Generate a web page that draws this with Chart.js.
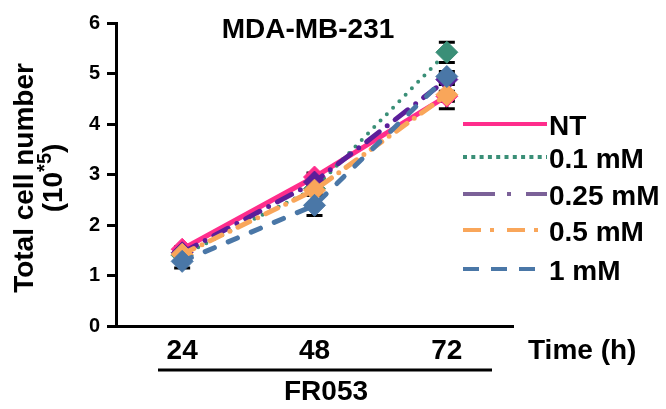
<!DOCTYPE html>
<html lang="en">
<head>
<meta charset="UTF-8">
<title>MDA-MB-231 | Total cell number</title>
<script src="https://cdn.jsdelivr.net/npm/chart.js"></script>
<style>
    html, body { margin: 0; padding: 0; background: #fff; }
    #grafico { display: block; }
</style>
</head>
<body>

<canvas id="grafico" width="666" height="409"></canvas>

<script>
// time points (h)
const rotulosX = ['24', '48', '72'];

// series names (legend order)
const nomes = ['NT', '0.1 mM', '0.25 mM', '0.5 mM', '1 mM'];

// total cell number (10^5)
const valoresNT = [1.52, 2.95, 4.55];
const valores01 = [1.40, 2.72, 5.42];
const valores025 = [1.45, 2.85, 4.88];
const valores05 = [1.42, 2.69, 4.58];
const valores1 = [1.28, 2.39, 4.94];

// error bars (same unit)
const errosNT = [0.05, 0.08, 0.10];
const erros01 = [0.05, 0.10, 0.20];
const erros025 = [0.05, 0.05, 0.10];
const erros05 = [0.05, 0.10, 0.28];
const erros1 = [0.13, 0.20, 0.10];

const fonte = '"Liberation Sans", Arial, Helvetica, sans-serif';

function serie(nome, valores, erros, cor, corLegenda, traco, tracoLegenda, largura, ordem) {
    return {
        label: nome,
        data: valores,
        erros: erros,
        borderColor: cor,
        backgroundColor: cor,
        borderWidth: largura,
        borderDash: traco,
        borderCapStyle: 'round',
        pointStyle: 'rectRot',
        pointRadius: 11,
        pointBackgroundColor: cor,
        pointBorderColor: cor,
        pointBorderWidth: 1,
        corLegenda: corLegenda,
        tracoLegenda: tracoLegenda,
        order: ordem,
        tension: 0
    };
}

const datasets = [
    serie(nomes[0], valoresNT, errosNT, '#ff2d8c', '#ff2d8c', [], [], 5, 5),
    serie(nomes[1], valores01, erros01, '#3a8f77', '#3a8f77', [0, 9], [4, 4.3], 4, 4),
    serie(nomes[2], valores025, erros025, '#5b1e9a', '#7b6198', [16, 10, 0, 10], [32, 12, 4, 15], 5, 3),
    serie(nomes[3], valores05, erros05, '#f9a65a', '#f9a65a', [13, 9, 0, 9], [18, 9, 4, 13], 5, 2),
    serie(nomes[4], valores1, erros1, '#4a77a7', '#4a77a7', [10, 15], [16, 12], 5, 1)
];

// error bars under the markers, titles and legend on top
const decoracao = {
    id: 'decoracao',
    beforeDatasetsDraw(chart) {
        const ctx = chart.ctx;
        const sx = chart.scales.x;
        const sy = chart.scales.y;
        ctx.save();
        ctx.strokeStyle = '#000';
        ctx.lineWidth = 3;
        chart.data.datasets.forEach(ds => {
            ds.data.forEach((v, i) => {
                const x = sx.getPixelForValue(i);
                const y1 = sy.getPixelForValue(v + ds.erros[i]);
                const y2 = sy.getPixelForValue(v - ds.erros[i]);
                ctx.beginPath();
                ctx.moveTo(x, y1); ctx.lineTo(x, y2);
                ctx.moveTo(x - 8, y1); ctx.lineTo(x + 8, y1);
                ctx.moveTo(x - 8, y2); ctx.lineTo(x + 8, y2);
                ctx.stroke();
            });
        });
        ctx.restore();
    },
    afterDraw(chart) {
        const ctx = chart.ctx;
        ctx.save();
        ctx.fillStyle = '#000';
        ctx.textBaseline = 'alphabetic';

        // title
        ctx.font = 'bold 28px ' + fonte;
        ctx.textAlign = 'center';
        ctx.fillText('MDA-MB-231', 308, 38);

        // axis names
        ctx.textAlign = 'left';
        ctx.fillText('Time (h)', 528, 359);
        ctx.textAlign = 'center';
        ctx.fillText('FR053', 326, 400);

        ctx.strokeStyle = '#000';
        ctx.lineWidth = 3;
        ctx.beginPath();
        ctx.moveTo(158, 370); ctx.lineTo(492, 370);
        ctx.stroke();

        // y title, two lines, rotated
        ctx.save();
        ctx.translate(23, 178);
        ctx.rotate(-Math.PI / 2);
        ctx.textAlign = 'center';
        ctx.fillText('Total cell number', 0, 10);
        ctx.restore();

        ctx.save();
        ctx.translate(55, 178);
        ctx.rotate(-Math.PI / 2);
        ctx.textAlign = 'left';
        ctx.font = 'bold 28px ' + fonte;
        const a = ctx.measureText('(10').width;
        const c = ctx.measureText(')').width;
        ctx.font = 'bold 20px ' + fonte;
        const b = ctx.measureText('*5').width;
        let x0 = -(a + b + c) / 2;
        ctx.font = 'bold 28px ' + fonte;
        ctx.fillText('(10', x0, 7);
        ctx.font = 'bold 20px ' + fonte;
        ctx.fillText('*5', x0 + a, -4);
        ctx.font = 'bold 28px ' + fonte;
        ctx.fillText(')', x0 + a + b, 7);
        ctx.restore();

        // legend
        const linhasY = [124, 157, 194, 230, 269];
        ctx.textAlign = 'left';
        ctx.font = 'bold 28px ' + fonte;
        chart.data.datasets.forEach((ds, i) => {
            const y = linhasY[i];
            ctx.save();
            ctx.strokeStyle = ds.corLegenda;
            ctx.lineWidth = 4;
            ctx.lineCap = 'butt';
            ctx.setLineDash(ds.tracoLegenda);
            ctx.beginPath();
            ctx.moveTo(463, y); ctx.lineTo(547, y);
            ctx.stroke();
            ctx.restore();
            ctx.fillText(ds.label, 549, y + 11);
        });
        ctx.restore();
    }
};

new Chart(document.getElementById('grafico'), {
    type: 'line',
    data: { labels: rotulosX, datasets: datasets },
    options: {
        responsive: false,
        animation: false,
        devicePixelRatio: 1,
        layout: { padding: { left: 0, right: 153, top: 23, bottom: 0 } },
        plugins: {
            legend: { display: false },
            tooltip: { enabled: false },
            title: { display: false }
        },
        scales: {
            x: {
                type: 'category',
                offset: true,
                position: 'bottom',
                grid: { display: false, drawTicks: false },
                border: { display: true, color: '#000', width: 3 },
                ticks: { color: '#000', padding: 8, font: { family: fonte, size: 28, weight: 'bold' } },
                afterFit(scale) { scale.height = 83; }
            },
            y: {
                min: 0,
                max: 6,
                ticks: { stepSize: 1, color: '#000', padding: 7, font: { family: fonte, size: 20, weight: 'bold' } },
                grid: { drawOnChartArea: false, drawTicks: true, tickLength: 9, tickWidth: 3, tickColor: '#000' },
                border: { display: true, color: '#000', width: 3 },
                afterFit(scale) { scale.width = 116; }
            }
        }
    },
    plugins: [decoracao]
});
</script>
</body>
</html>
